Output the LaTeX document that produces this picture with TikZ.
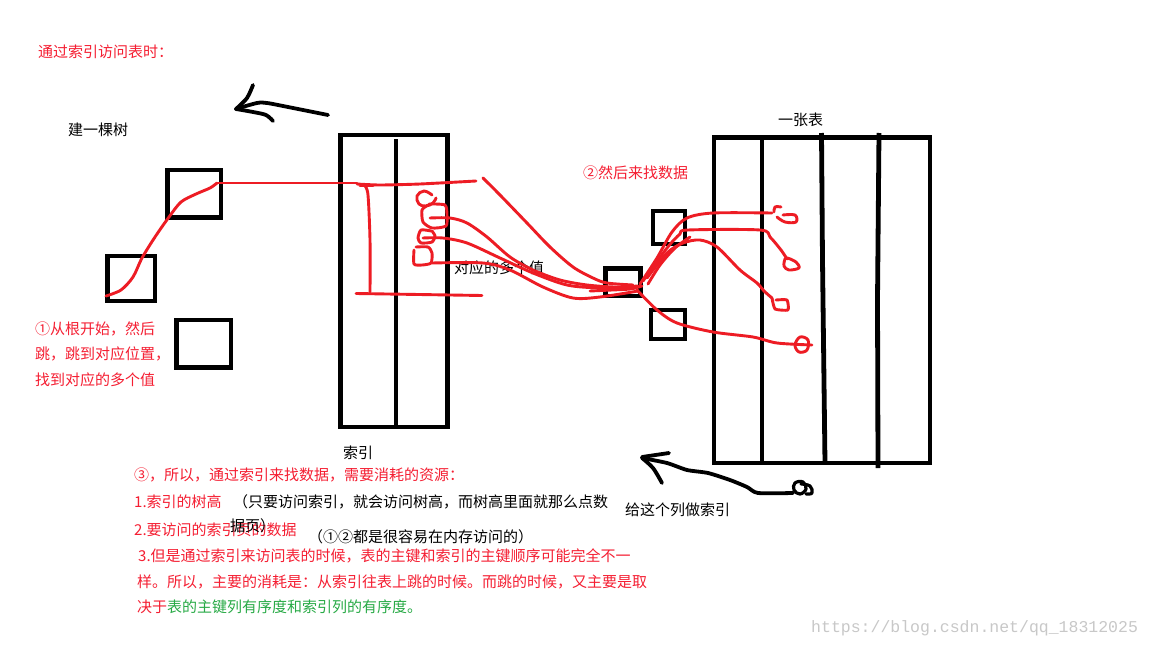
\documentclass[tikz,border=0pt]{standalone}
\usepackage{fontspec}
\setmainfont{Noto Sans CJK SC}
\newfontfamily\wmfont{Liberation Mono}
\definecolor{pred}{RGB}{237,28,36}
\definecolor{tred}{RGB}{245,30,50}
\definecolor{tgreen}{RGB}{40,170,70}
\definecolor{wmgray}{RGB}{200,200,200}
\begin{document}
\begin{tikzpicture}[x=1pt,y=-1pt,
  box/.style={line width=4.8pt},
  ink/.style={line width=3.8pt,line cap=round,line join=round},
  redline/.style={draw=pred,line width=2.9pt,line cap=round,line join=round},
  txt/.style={anchor=west,inner sep=0pt,font=\fontsize{15}{18}\selectfont},
  rtxt/.style={txt,text=tred},
  btxt/.style={txt,text=black}]
\useasboundingbox[fill=white] (0,0) rectangle (1152,648);

% ---- texts ----
\node[rtxt] (title) at (38,52) {通过索引访问表时：};
\node[btxt] (tree) at (68,130) {建一棵树};
\node[rtxt] (s1a) at (35,329) {①从根开始，然后};
\node[rtxt] (s1b) at (35,354) {跳，跳到对应位置，};
\node[rtxt] (s1c) at (35,380) {找到对应的多个值};
\node[btxt] (idxlbl) at (343,453) {索引};
\node[btxt] (tbl) at (778,120) {一张表};
\node[rtxt] (s2) at (583,173) {②然后来找数据};
\node[btxt] (multi) at (454,268) {对应的多个值};
\node[btxt] (give) at (625,510) {给这个列做索引};
\node[rtxt] (s3) at (134,475) {③，所以，通过索引来找数据，需要消耗的资源：};
\node[rtxt] (p1) at (134,502) {1.索引的树高};
\node[btxt] (p1b) at (233,502) {（只要访问索引，就会访问树高，而树高里面就那么点数};
\node[rtxt] (p2) at (134,530) {2.要访问的索引页的数据};
\node[btxt] (p2b) at (230,526) {据页）};
\node[btxt] (p2c) at (308,537) {（①②都是很容易在内存访问的）};
\node[rtxt] (p3a) at (138,556) {3.但是通过索引来访问表的时候，表的主键和索引的主键顺序可能完全不一};
\node[rtxt] (p3b) at (137,582) {样。所以，主要的消耗是：从索引往表上跳的时候。而跳的时候，又主要是取};
\node[txt] (p3c) at (137,607) {\textcolor{tred}{决于}\textcolor{tgreen}{表的主键列有序度和索引列的有序度。}};
\node[anchor=west,inner sep=0pt,text=wmgray,font=\wmfont\fontsize{16.5}{18}\selectfont] (wm) at (811,628) {https://blog.csdn.net/qq\_18312025};

% ---- tree boxes ----
\draw[box] (167.5,170) rectangle (221,217.5);
\draw[box] (107.5,256) rectangle (155,301);
\draw[box] (176.5,320) rectangle (231,367.5);

% ---- index ----
\draw[box] (340.5,135) rectangle (447.5,427);
\draw[box] (396,139) -- (396,427);

% ---- table ----
\draw[box] (714,137.5) rectangle (930,463);
\draw[box] (762,137) -- (762,463);
\draw[box] (821.5,133) -- (822.5,260) -- (825,463);
\draw[box] (879,133) -- (877.5,300) -- (878,468);

% ---- small boxes ----
\draw[box] (653,211) rectangle (685,244);
\draw[box] (605.5,268.5) rectangle (640.5,296);
\draw[box] (651,310) rectangle (685,339);

% ---- black arrows ----
\draw[ink] plot[smooth,tension=0.5] coordinates {(328,115) (313,112) (283,106) (267,103) (257,103) (236,109)};
\draw[ink] plot[smooth,tension=0.5] coordinates {(236,109) (247,98) (253,85)};
\draw[ink] plot[smooth,tension=0.5] coordinates {(236,109) (253,112) (266,115) (273,121)};

\draw[ink] plot[smooth,tension=0.4] coordinates {(793,493) (758,493) (747,487) (730,480) (708,473) (687,470) (667,463) (642,458)};
\draw[ink] (642,457) -- (669,453);
\draw[ink] plot[smooth,tension=0.5] coordinates {(642,458) (653,468) (662,483)};
\draw[ink,line width=3.2pt] plot[smooth cycle,tension=0.7] coordinates {(795,483) (803,482) (806,489) (800,494) (794,490)};
\draw[ink,line width=3.2pt] plot[smooth,tension=0.7] coordinates {(801,484) (810,486) (812,493) (806,494)};

% ---- red: tree path ----
\draw[redline] plot[smooth,tension=0.5] coordinates {(106,296) (121,290) (133,277) (142,258) (155,237) (169,217) (181,202) (196,194) (210,188) (217,183)};
\draw[redline] (217,183) -- (357,183);
\draw[redline] plot[smooth,tension=0.4] coordinates {(357,184) (380,185) (420,184) (476,181)};
\draw[redline] (360,186) -- (373,186);
\draw[redline] plot[smooth,tension=0.5] coordinates {(365,186) (368,195) (370,240) (370,292)};
\draw[redline] (356,293.5) -- (482,295.5);

% ---- red: index loops ----
\draw[redline] plot[smooth,tension=0.7] coordinates {(432,195) (424,191) (417,196) (419,204) (426,206) (433,203) (436,198)};
\draw[redline] plot[smooth,tension=0.4] coordinates {(429,204) (445,205) (447,215) (446,226) (432,228) (423,222) (422,210) (428,205)};
\draw[redline] plot[smooth,tension=0.4] coordinates {(431,231) (421,230) (418,238) (421,243) (432,242) (435,236) (432,231)};
\draw[redline] plot[smooth,tension=0.4] coordinates {(416,247) (428,247) (432,253) (431,263) (422,265) (414,264) (414,250)};

% ---- red: index -> key box ----
\draw[redline] plot[smooth,tension=0.5] coordinates {(483,178) (500,195) (527,223) (550,247) (573,267) (593,278) (607,283) (633,285)};
\draw[redline] plot[smooth,tension=0.5] coordinates {(430,218) (450,218) (467,223) (487,237) (510,257) (533,270) (560,280) (587,285) (615,287) (638,286)};
\draw[redline] plot[smooth,tension=0.5] coordinates {(423,238) (443,238) (467,243) (500,258) (533,273) (567,285) (600,288) (636,288)};
\draw[redline] plot[smooth,tension=0.5] coordinates {(432,263) (483,263) (510,270) (543,287) (573,298) (600,297) (638,291)};
\draw[redline] plot[smooth,tension=0.5] coordinates {(590,291) (612,290) (630,289) (642,286)};

% ---- red: key box -> table ----
\draw[redline] plot[smooth,tension=0.5] coordinates {(640,284) (657,258) (672,232) (687,218) (713,213) (772,213)};
\draw[redline] plot[smooth,tension=0.6] coordinates {(774,212) (775,207) (781,207)};
\draw[redline] plot[smooth,tension=0.6] coordinates {(783,215) (795,215) (796,222) (785,222) (777,217)};
\draw[redline] plot[smooth,tension=0.5] coordinates {(643,281) (667,248) (680,234) (688,230) (760,230) (770,237) (781,250) (787,259)};
\draw[redline] plot[smooth cycle,tension=0.5] coordinates {(786,258) (796,262) (799,268) (789,270) (784,266)};
\draw[redline] plot[smooth,tension=0.5] coordinates {(647,278) (667,253) (683,243) (700,240) (717,247) (740,270) (757,283) (764,291) (772,298)};
\draw[redline] plot[smooth,tension=0.3] coordinates {(772,298) (775,309) (788,310) (787,300) (776,300)};
\draw[redline] plot[smooth,tension=0.5] coordinates {(637,290) (657,310) (677,323) (713,332) (753,337) (777,343) (812,345)};
\draw[redline] plot[smooth cycle,tension=0.6] coordinates {(800,337) (808,340) (807,350) (799,352) (795,345)};
\draw[redline] plot[smooth,tension=0.5] coordinates {(648,284) (660,265) (675,248) (690,237)};
\end{tikzpicture}
\end{document}
